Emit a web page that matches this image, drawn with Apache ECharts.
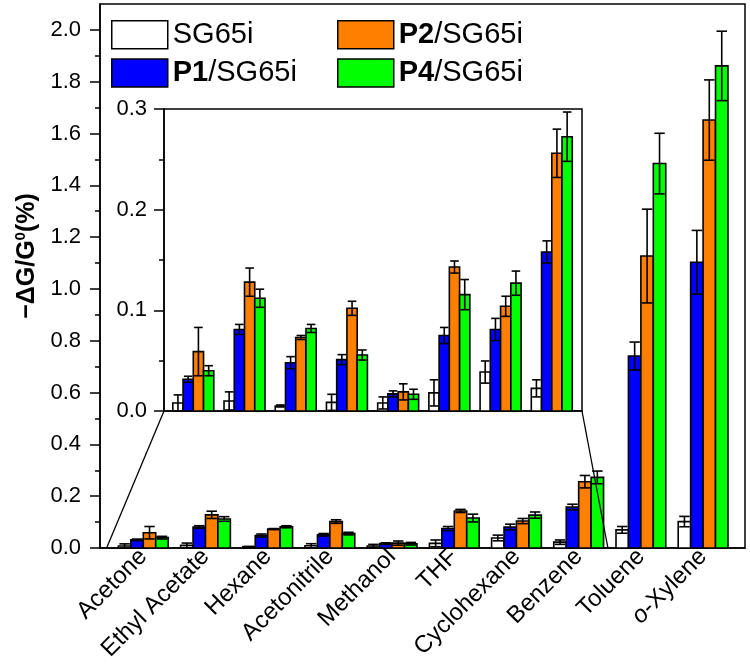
<!DOCTYPE html>
<html><head><meta charset="utf-8">
<script src="https://cdn.jsdelivr.net/npm/echarts@6/dist/echarts.min.js"></script>
<style>html,body{margin:0;padding:0;background:#fff}#c{width:750px;height:667px}</style>
</head><body><div id="c"></div>
<script>
// ---------------- data ----------------
const categories = ['Acetone','Ethyl Acetate','Hexane','Acetonitrile','Methanol','THF','Cyclohexane','Benzene','Toluene','o-Xylene'];
const seriesNames = ['SG65i','P1/SG65i','P2/SG65i','P4/SG65i'];
const sg65i    = [0.008, 0.010, 0.005, 0.0086, 0.008, 0.018, 0.0387, 0.0225, 0.070, 0.102];
const sg65iErr = [0.008, 0.009, 0.001, 0.008,  0.006, 0.013, 0.011,  0.0085, 0.013, 0.020];
const p1       = [0.0315, 0.081, 0.048, 0.051, 0.017, 0.075, 0.081, 0.158, 0.741, 1.103];
const p1Err    = [0.003,  0.005, 0.006, 0.005, 0.003, 0.008, 0.011, 0.011, 0.054, 0.123];
const p2       = [0.059, 0.128, 0.073, 0.102, 0.019, 0.143, 0.104, 0.256, 1.127, 1.652];
const p2Err    = [0.024, 0.014, 0.002, 0.007, 0.008, 0.006, 0.010, 0.024, 0.181, 0.155];
const p4       = [0.040, 0.112, 0.082, 0.0556, 0.0166, 0.1156, 0.127, 0.2725, 1.484, 1.861];
const p4Err    = [0.005, 0.009, 0.004, 0.005,  0.005,  0.015,  0.012, 0.0245, 0.117, 0.134];
const insetCount = 8; // inset shows Acetone ... Benzene
const mainYTicks = [0, 0.2, 0.4, 0.6, 0.8, 1.0, 1.2, 1.4, 1.6, 1.8, 2.0];
const mainYMinorTicks = [0.1, 0.3, 0.5, 0.7, 0.9, 1.1, 1.3, 1.5, 1.7, 1.9];
const insetYTicks = [0, 0.1, 0.2, 0.3];

// ---------------- style ----------------
const COLORS = ['#ffffff', '#0000ff', '#ff8000', '#00ff00'];
const FONT = 'Liberation Sans, Arial, sans-serif';
const BAR_W = 0.2;
const LW = 1.6;
const valueSets = [[sg65i, sg65iErr], [p1, p1Err], [p2, p2Err], [p4, p4Err]];

function makeRender(k) {
  return function (params, api) {
    const x = api.value(0), v = api.value(1), e = api.value(2);
    const off = (k - 1.5) * BAR_W;
    const tl = api.coord([x + off - BAR_W / 2, v]);
    const br = api.coord([x + off + BAR_W / 2, 0]);
    const cx = (tl[0] + br[0]) / 2;
    const top = api.coord([x, v + e])[1];
    const bot = api.coord([x, Math.max(0, v - e)])[1];
    const capHalf = (br[0] - tl[0]) * 0.42;
    const ls = { stroke: '#000', lineWidth: LW };
    return { type: 'group', children: [
      { type: 'rect', shape: { x: tl[0], y: tl[1], width: br[0] - tl[0], height: br[1] - tl[1] },
        style: { fill: COLORS[k], stroke: '#000', lineWidth: LW } },
      { type: 'line', shape: { x1: cx, y1: top, x2: cx, y2: bot }, style: ls },
      { type: 'line', shape: { x1: cx - capHalf, y1: top, x2: cx + capHalf, y2: top }, style: ls },
      { type: 'line', shape: { x1: cx - capHalf, y1: bot, x2: cx + capHalf, y2: bot }, style: ls }
    ]};
  };
}

const series = [];
valueSets.forEach(([vals, errs], k) => {
  series.push({
    type: 'custom', name: seriesNames[k], xAxisIndex: 0, yAxisIndex: 0,
    itemStyle: { color: COLORS[k] }, renderItem: makeRender(k),
    encode: { x: 0, y: 1 },
    data: categories.map((c, i) => [i, vals[i], errs[i]])
  });
  series.push({
    type: 'custom', name: seriesNames[k], xAxisIndex: 1, yAxisIndex: 1,
    itemStyle: { color: COLORS[k] }, renderItem: makeRender(k),
    encode: { x: 0, y: 1 },
    data: categories.slice(0, insetCount).map((c, i) => [i, vals[i], errs[i]])
  });
});

const legendText = {
  fontSize: 29, color: '#000', fontFamily: FONT,
  rich: { b: { fontSize: 29, fontWeight: 'bold', color: '#000', fontFamily: FONT },
          r: { fontSize: 29, color: '#000', fontFamily: FONT } }
};
function legendFmt(name) {
  const p = name.split('/');
  return p.length > 1 ? '{b|' + p[0] + '}{r|/' + p[1] + '}' : '{r|' + name + '}';
}
function legendItem(k) {
  return { name: seriesNames[k], itemStyle: { color: COLORS[k], borderColor: '#000', borderWidth: 1.5 } };
}
const legendBase = {
  orient: 'vertical', top: 15, itemWidth: 56, itemHeight: 28, itemGap: 8.7, icon: 'rect',
  selectedMode: false, formatter: legendFmt, textStyle: legendText
};

const axisLineStyle = { show: true, onZero: false, lineStyle: { color: '#000', width: 1.5 } };
const tickStyle = { color: '#000', width: 1.5 };

const chart = echarts.init(document.getElementById('c'), null, { renderer: 'canvas' });
const option = {
  animation: false,
  backgroundColor: '#fff',
  legend: [
    Object.assign({ left: 106, data: [legendItem(0), legendItem(1)] }, legendBase),
    Object.assign({ left: 332, data: [legendItem(2), legendItem(3)] }, legendBase)
  ],
  grid: [
    { left: 100, right: 5, top: 4, bottom: 119, show: true, borderColor: '#000', borderWidth: 1.5 },
    { left: 164, right: 168, top: 109, bottom: 256, show: true, borderColor: '#000', borderWidth: 1.5, backgroundColor: '#fff' }
  ],
  xAxis: [
    { type: 'value', gridIndex: 0, min: -0.696, max: 9.674, position: 'bottom',
      axisLine: axisLineStyle,
      axisTick: { show: false }, splitLine: { show: false },
      axisLabel: {
        customValues: categories.map((c, i) => i), rotate: 45, margin: 5,
        fontSize: 24, color: '#000', fontFamily: FONT,
        formatter: function (v) {
          const name = categories[Math.round(v)] || '';
          if (name.indexOf('o-') === 0) return '{i|o}{n|' + name.slice(1) + '}';
          return '{n|' + name + '}';
        },
        rich: { n: { fontSize: 24, color: '#000', fontFamily: FONT },
                i: { fontSize: 24, color: '#000', fontFamily: FONT, fontStyle: 'italic' } }
      } },
    { type: 'value', gridIndex: 1, min: -0.572, max: 7.59, position: 'bottom',
      axisLine: axisLineStyle,
      axisTick: { show: false }, axisLabel: { show: false }, splitLine: { show: false } }
  ],
  yAxis: [
    { type: 'value', gridIndex: 0, min: 0, max: 2.1, position: 'left',
      axisLine: axisLineStyle,
      axisTick: { show: true, length: 10, customValues: mainYTicks, lineStyle: tickStyle },
      axisLabel: { customValues: mainYTicks, fontSize: 22, color: '#000', fontFamily: FONT, margin: 19,
                   formatter: v => v.toFixed(1) },
      splitLine: { show: false },
      name: '{n|\u2212\u0394G/G}{s|0}{n|(%)}', nameLocation: 'middle', nameGap: 56, nameRotate: 90,
      nameTextStyle: {
        padding: [0, 0, 0, 40],
        rich: { n: { fontSize: 25, fontWeight: 'bold', color: '#000', fontFamily: FONT, lineHeight: 28 },
                s: { fontSize: 15, fontWeight: 'bold', color: '#000', fontFamily: FONT, verticalAlign: 'top', lineHeight: 28 } }
      } },
    { type: 'value', gridIndex: 1, min: 0, max: 0.3, interval: 0.1, position: 'left',
      axisLine: axisLineStyle,
      axisTick: { show: true, length: 10, customValues: insetYTicks, lineStyle: tickStyle },
      minorTick: { show: true, splitNumber: 2, length: 5, lineStyle: tickStyle },
      axisLabel: { customValues: insetYTicks, fontSize: 22, color: '#000', fontFamily: FONT, margin: 17,
                   formatter: v => v.toFixed(1) },
      splitLine: { show: false } },
    { type: 'value', gridIndex: 0, min: 0, max: 2.1, position: 'left', offset: 0,
      axisLine: { show: false, onZero: false }, axisLabel: { show: false }, splitLine: { show: false },
      axisTick: { show: true, length: 5, customValues: mainYMinorTicks, lineStyle: tickStyle } }
  ],
  series: series
};
chart.setOption(option);

// zoom connector lines from the inset's lower corners down to the main x-axis
const insetL = chart.convertToPixel({ xAxisIndex: 1, yAxisIndex: 1 }, [-0.572, 0]);
const insetR = chart.convertToPixel({ xAxisIndex: 1, yAxisIndex: 1 }, [7.59, 0]);
const mainL = chart.convertToPixel({ xAxisIndex: 0, yAxisIndex: 0 }, [-0.59, 0]);
const mainR = chart.convertToPixel({ xAxisIndex: 0, yAxisIndex: 0 }, [7.47, 0]);
chart.setOption({
  graphic: [
    { type: 'line', z: 100, shape: { x1: insetL[0], y1: insetL[1], x2: mainL[0], y2: mainL[1] }, style: { stroke: '#000', lineWidth: 1.3 } },
    { type: 'line', z: 100, shape: { x1: insetR[0], y1: insetR[1], x2: mainR[0], y2: mainR[1] }, style: { stroke: '#000', lineWidth: 1.3 } }
  ]
});
</script></body></html>
